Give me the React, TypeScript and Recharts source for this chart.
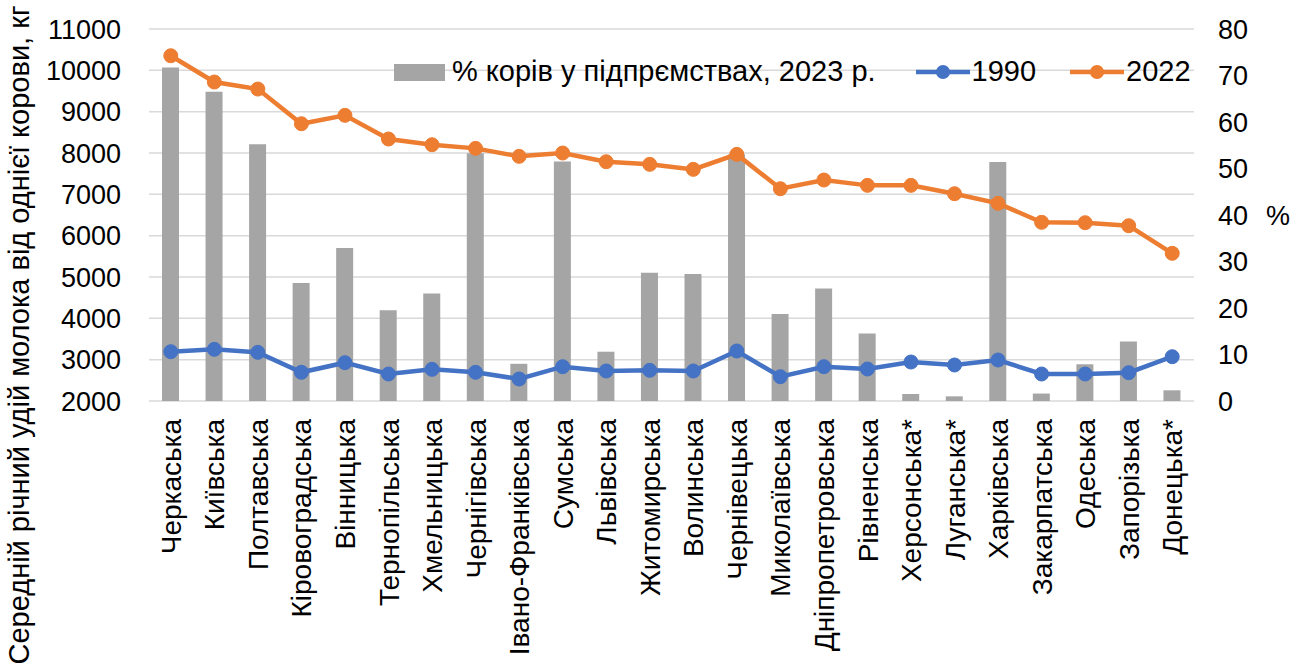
import React from "react";
import {
  ComposedChart,
  Bar,
  Line,
  XAxis,
  YAxis,
  CartesianGrid,
  Legend,
  Label,
} from "recharts";

const regions = [
  "Черкаська",
  "Київська",
  "Полтавська",
  "Кіровоградська",
  "Вінницька",
  "Тернопільська",
  "Хмельницька",
  "Чернігівська",
  "Івано-Франківська",
  "Сумська",
  "Львівська",
  "Житомирська",
  "Волинська",
  "Чернівецька",
  "Миколаївська",
  "Дніпропетровська",
  "Рівненська",
  "Херсонська*",
  "Луганська*",
  "Харківська",
  "Закарпатська",
  "Одеська",
  "Запорізька",
  "Донецька*",
];

// % корів у підприємствах, 2023
const cowsShare2023 = [
  71.7, 66.5, 55.2, 25.4, 32.9, 19.5, 23.1, 53.3, 8.0, 51.5, 10.6, 27.6, 27.3,
  53.0, 18.7, 24.2, 14.5, 1.5, 1.0, 51.4, 1.6, 7.9, 12.8, 2.3,
];

// удій, кг
const yield1990 = [
  3193, 3250, 3177, 2694, 2927, 2653, 2766, 2694, 2532, 2830, 2726, 2742, 2726,
  3210, 2588, 2830, 2774, 2943, 2871, 2992, 2653, 2653, 2685, 3072,
];

const yield2022 = [
  10353, 9717, 9547, 8708, 8911, 8338, 8200, 8112, 7919, 7999, 7789, 7725, 7604,
  7967, 7136, 7346, 7217, 7217, 7015, 6782, 6323, 6313, 6241, 5573,
];

const leftTicks = [2000, 3000, 4000, 5000, 6000, 7000, 8000, 9000, 10000, 11000];
const rightTicks = [0, 10, 20, 30, 40, 50, 60, 70, 80];

const data = regions.map((name, i) => ({
  name,
  share: cowsShare2023[i],
  y1990: yield1990[i],
  y2022: yield2022[i],
}));

const FONT = "'Liberation Sans', Arial, sans-serif";
const FS = 27;
const BLUE = "#4472c4";
const ORANGE = "#ed7d31";
const GRAY = "#a5a5a5";

function CategoryTick(props: any) {
  const { x, y, payload } = props;
  return (
    <text
      x={x}
      y={y + 10}
      transform={`rotate(-90, ${x}, ${y + 10})`}
      textAnchor="end"
      dy="0.36em"
      fontFamily={FONT}
      fontSize={28}
      fill="#000"
    >
      {payload.value}
    </text>
  );
}

function LegendContent(props: any) {
  const { payload } = props;
  if (!payload) return null;
  return (
    <div
      style={{
        display: "flex",
        alignItems: "center",
        fontFamily: FONT,
        fontSize: 29,
        color: "#000",
        whiteSpace: "nowrap",
      }}
    >
      {payload.map((entry: any) => {
        const isBar = entry.dataKey === "share";
        return (
          <div
            key={entry.value}
            style={{ display: "flex", alignItems: "center", marginRight: isBar ? 38 : 32 }}
          >
            {isBar ? (
              <svg width={58} height={18}>
                <rect x={0} y={1} width={51} height={17} fill={GRAY} />
              </svg>
            ) : (
              <svg width={58} height={18}>
                <line x1={2} y1={9} x2={56} y2={9} stroke={entry.color} strokeWidth={4.5} />
                <circle cx={29} cy={9} r={7} fill={entry.color} />
              </svg>
            )}
            <span>{entry.value}</span>
          </div>
        );
      })}
    </div>
  );
}

function LeftTitle(props: any) {
  const cx = 19;
  const cy = 335;
  return (
    <text
      x={cx}
      y={cy}
      transform={`rotate(-90, ${cx}, ${cy})`}
      textAnchor="middle"
      dy="0.36em"
      fontFamily={FONT}
      fontSize={29}
      fill="#000"
    >
      Середній річний удій молока від однієї корови, кг
    </text>
  );
}

export default function App() {
  return (
    <div style={{ position: "absolute", left: 0, top: 0, width: 1299, height: 670, background: "#fff" }}>
      <ComposedChart
        width={1299}
        height={670}
        data={data}
        margin={{ top: 29, right: 0, left: 0, bottom: 0 }}
      >
        <CartesianGrid
          yAxisId="left"
          vertical={false}
          stroke="#d9d9d9"
          strokeWidth={1.5}
        />
        <XAxis
          dataKey="name"
          interval={0}
          height={269}
          axisLine={false}
          tickLine={false}
          tick={<CategoryTick />}
        />
        <YAxis
          yAxisId="left"
          orientation="left"
          width={149}
          domain={[2000, 11000]}
          ticks={leftTicks}
          axisLine={false}
          tickLine={false}
          tickMargin={22}
          tick={{ fontFamily: FONT, fontSize: FS, fill: "#000" }}
        >
          <Label content={<LeftTitle />} />
        </YAxis>
        <YAxis
          yAxisId="right"
          orientation="right"
          width={105}
          domain={[0, 80]}
          ticks={rightTicks}
          axisLine={false}
          tickLine={false}
          tickMargin={18}
          tick={{ fontFamily: FONT, fontSize: FS, fill: "#000", textAnchor: "start" }}
        >
          <Label
            value="%"
            position="insideRight"
            offset={9}
            style={{ fontFamily: FONT, fontSize: FS, fill: "#000" }}
          />
        </YAxis>
        <Legend
          layout="horizontal"
          verticalAlign="middle"
          align="center"
          content={<LegendContent />}
          wrapperStyle={{ position: "absolute", top: 55, left: 394, width: 860, height: 36 }}
        />
        <Bar
          yAxisId="right"
          dataKey="share"
          name="% корів у підпрємствах, 2023 р."
          fill={GRAY}
          barSize={17}
          isAnimationActive={false}
        />
        <Line
          yAxisId="left"
          dataKey="y1990"
          name="1990"
          stroke={BLUE}
          strokeWidth={4.5}
          dot={{ r: 7, fill: BLUE, stroke: BLUE, strokeWidth: 1 }}
          activeDot={false}
          isAnimationActive={false}
        />
        <Line
          yAxisId="left"
          dataKey="y2022"
          name="2022"
          stroke={ORANGE}
          strokeWidth={4.5}
          dot={{ r: 7, fill: ORANGE, stroke: ORANGE, strokeWidth: 1 }}
          activeDot={false}
          isAnimationActive={false}
        />
      </ComposedChart>
    </div>
  );
}
